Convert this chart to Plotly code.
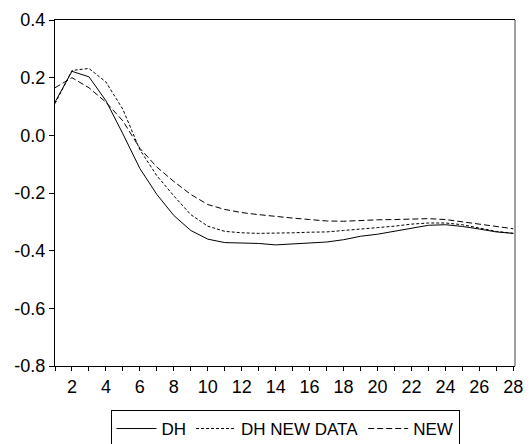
import plotly.graph_objects as go

periods = list(range(1, 29))
dh = [0.115, 0.222, 0.203, 0.12, 0.005, -0.115, -0.205, -0.278, -0.33, -0.36,
      -0.372, -0.373, -0.375, -0.38, -0.376, -0.372, -0.37, -0.362, -0.35, -0.343,
      -0.333, -0.322, -0.312, -0.31, -0.316, -0.325, -0.335, -0.34]
dh_new_data = [0.11, 0.225, 0.232, 0.185, 0.09, -0.05, -0.14, -0.21, -0.275, -0.315,
               -0.333, -0.338, -0.34, -0.34, -0.338, -0.336, -0.335, -0.33, -0.324, -0.32,
               -0.315, -0.308, -0.304, -0.304, -0.31, -0.322, -0.333, -0.34]
new = [0.165, 0.20, 0.165, 0.115, 0.05, -0.045, -0.11, -0.16, -0.205, -0.24,
       -0.257, -0.268, -0.275, -0.282, -0.287, -0.292, -0.297, -0.298, -0.295, -0.293,
       -0.292, -0.29, -0.289, -0.292, -0.3, -0.31, -0.318, -0.324]
x_tick_vals = list(range(1, 29))
x_tick_text = [str(v) if v % 2 == 0 else "" for v in x_tick_vals]
y_tick_vals = [-0.8, -0.6, -0.4, -0.2, 0.0, 0.2, 0.4]
y_tick_text = ["-0.8", "-0.6", "-0.4", "-0.2", "0.0", "0.2", "0.4"]

fig = go.Figure()
fig.add_trace(go.Scatter(x=periods, y=dh, mode="lines", name="DH",
                         line=dict(color="black", width=1, dash="solid")))
fig.add_trace(go.Scatter(x=periods, y=dh_new_data, mode="lines", name="DH NEW DATA",
                         line=dict(color="black", width=1, dash="3px,2px")))
fig.add_trace(go.Scatter(x=periods, y=new, mode="lines", name="NEW",
                         line=dict(color="black", width=1, dash="6px,3px")))

# page body has an 8px default margin, so the figure is sized/offset to compensate
fig.update_layout(
    width=523, height=436,
    margin=dict(l=47, r=16, t=12, b=78, autoexpand=False),
    paper_bgcolor="white", plot_bgcolor="white",
    font=dict(family="Liberation Sans, Arial, sans-serif", size=18, color="black"),
    showlegend=True,
    legend=dict(orientation="h", x=0.5, xanchor="center", xref="paper",
                y=0.078, yanchor="top", yref="container",
                bordercolor="black", borderwidth=1, bgcolor="white",
                font=dict(size=17), itemwidth=40, tracegroupgap=0),
    shapes=[dict(type="line", xref="paper", yref="paper", x0=1, x1=1, y0=0, y1=1,
                 line=dict(color="#808080", width=1.5))],
)
fig.update_xaxes(range=[1, 28.1], tickvals=x_tick_vals, ticktext=x_tick_text,
                 ticks="outside", ticklen=4, tickcolor="black", showgrid=False,
                 zeroline=False, showline=True, linecolor="black", linewidth=1,
                 mirror=True, tickfont=dict(size=18), automargin=False)
fig.update_yaxes(range=[-0.8, 0.4], tickvals=y_tick_vals, ticktext=y_tick_text,
                 ticks="outside", ticklen=5, tickcolor="black", showgrid=False,
                 zeroline=False, showline=True, linecolor="black", linewidth=1,
                 mirror=False, tickfont=dict(size=18), automargin=False)

fig.write_html("out.html")
